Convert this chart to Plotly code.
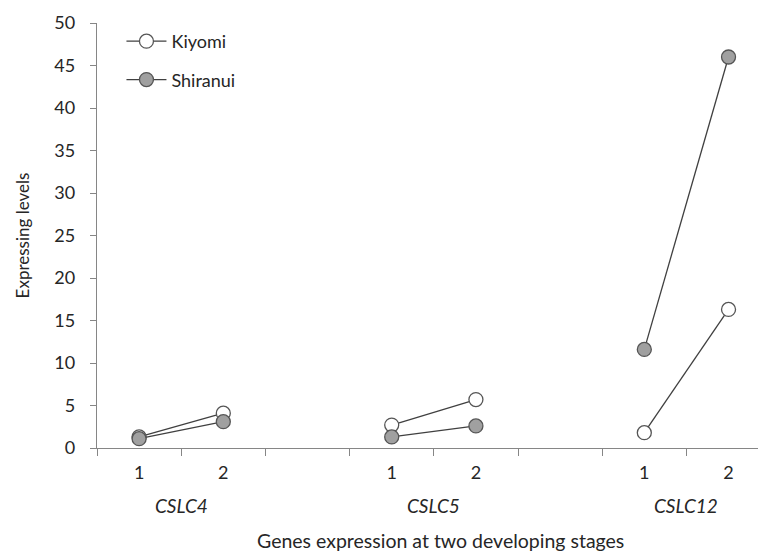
import plotly.graph_objects as go

# Data
positions = [0, 1, 2, 3, 4, 5, 6, 7]
kiyomi = [1.3, 4.1, None, 2.7, 5.7, None, 1.8, 16.3]
shiranui = [1.1, 3.1, None, 1.3, 2.6, None, 11.6, 46.0]
stage_positions = [0, 1, 3, 4, 6, 7]
stage_labels = ["1", "2", "1", "2", "1", "2"]
gene_centers = [0.5, 3.5, 6.5]
gene_labels = ["CSLC4", "CSLC5", "CSLC12"]
boundary_ticks = [-0.5, 0.5, 1.5, 2.5, 3.5, 4.5, 5.5, 6.5]
y_ticks = [0, 5, 10, 15, 20, 25, 30, 35, 40, 45, 50]

FONT = "Lato"
TXT = "#262626"
AX = "#868686"
FS = 18

fig = go.Figure()
fig.add_trace(go.Scatter(
    x=positions, y=kiyomi, name="Kiyomi", mode="lines+markers",
    connectgaps=False, legendgroup="a",
    line=dict(color="#404040", width=1.3),
    marker=dict(size=14, color="white", line=dict(color="#555555", width=1.3)),
))
fig.add_trace(go.Scatter(
    x=positions, y=shiranui, name="Shiranui", mode="lines+markers",
    connectgaps=False, legendgroup="b",
    line=dict(color="#404040", width=1.3),
    marker=dict(size=14, color="#a0a0a0", line=dict(color="#555555", width=1.3)),
))
# invisible trace on label axis
fig.add_trace(go.Scatter(x=stage_positions, y=[None]*6, xaxis="x2", showlegend=False,
                         hoverinfo="skip", mode="markers"))

xr = [-0.5, 7.35]
fig.update_layout(
    width=758, height=553,
    margin=dict(l=97, r=0, t=23, b=105),
    paper_bgcolor="white", plot_bgcolor="white",
    font=dict(family=FONT, size=FS, color=TXT),
    showlegend=True,
    legend=dict(x=0.037, y=1.0, xanchor="left", yanchor="top",
                bgcolor="rgba(0,0,0,0)", font=dict(size=FS, color=TXT),
                tracegroupgap=12, itemwidth=40),
    xaxis=dict(range=xr, tickmode="array", tickvals=boundary_ticks,
               showticklabels=False, ticks="outside", ticklen=7, tickcolor=AX,
               showline=True, linecolor=AX, linewidth=1.3, showgrid=False, zeroline=False),
    xaxis2=dict(range=xr, overlaying="x", side="bottom", tickmode="array",
                tickvals=stage_positions, ticktext=stage_labels, ticks="",
                showline=False, showgrid=False, zeroline=False, ticklabelstandoff=12,
                tickfont=dict(size=FS, color=TXT)),
    yaxis=dict(range=[0, 50], tickmode="array", tickvals=y_ticks,
               ticks="outside", ticklen=6, tickcolor=AX, showline=True, linecolor=AX,
               linewidth=1.3, showgrid=False, zeroline=False, ticklabelstandoff=11,
               tickfont=dict(size=FS, color=TXT),
               title=dict(text="Expressing levels", standoff=20, font=dict(size=17, color=TXT))),
)
for c, g in zip(gene_centers, gene_labels):
    fig.add_annotation(x=c, y=-0.135, xref="x", yref="paper", text=f"<i>{g}</i>",
                       showarrow=False, yanchor="middle", xanchor="center",
                       font=dict(size=19, color=TXT))
fig.add_annotation(x=0.519, y=-0.217, xref="paper", yref="paper",
                   text="Genes expression at two developing stages",
                   showarrow=False, yanchor="middle", xanchor="center",
                   font=dict(size=19.5, color=TXT))

fig.write_html("out.html")
